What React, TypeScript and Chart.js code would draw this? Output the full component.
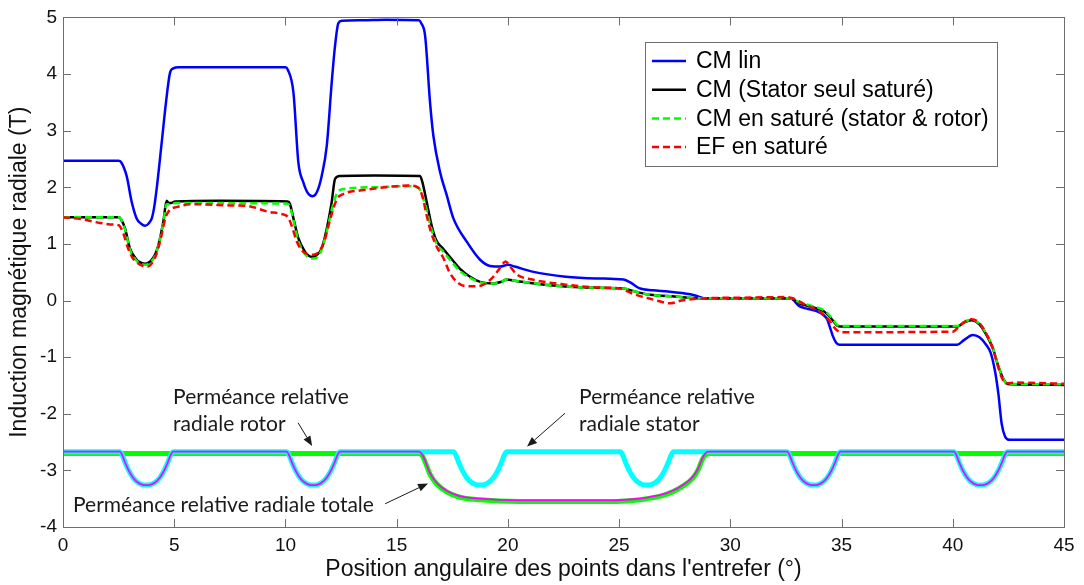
import React, { useEffect, useRef } from "react";
import { Chart, registerables } from "chart.js";

Chart.register(...registerables);

// ---- axis ticks ----
const xTickValues = [0, 5, 10, 15, 20, 25, 30, 35, 40, 45];
const yTickValues = [-4, -3, -2, -1, 0, 1, 2, 3, 4, 5];

const xTitle = "Position angulaire des points dans l'entrefer (°)";
const yTitle = "Induction magnétique radiale (T)";

const seriesNames = [
  "CM lin",
  "CM (Stator seul saturé)",
  "CM en saturé (stator & rotor)",
  "EF en saturé",
];

// ---- series: [angle (deg), B (T)] ----
const cmLin: number[][] = [
  [0, 2.47], [2.5, 2.47], [2.6, 2.45], [2.86, 2.2], [3.09, 1.74], [3.31, 1.45], [3.5, 1.36], [3.69, 1.32],
  [3.85, 1.36], [3.99, 1.45], [4.1, 1.65], [4.21, 1.97], [4.44, 2.8], [4.63, 3.5], [4.81, 4.02], [4.96, 4.1],
  [5.2, 4.12], [10.0, 4.12], [10.1, 4.08], [10.36, 3.67], [10.58, 2.44], [10.8, 2.09], [11.0, 1.9], [11.21, 1.84],
  [11.42, 1.92], [11.63, 2.2], [11.86, 2.74], [12.08, 3.85], [12.23, 4.5], [12.38, 4.9], [12.55, 4.94],
  [13.5, 4.95], [14.5, 4.96], [16.0, 4.95], [16.1, 4.9], [16.28, 4.67], [16.5, 3.5], [16.65, 2.91],
  [16.95, 2.27], [17.25, 1.86], [17.55, 1.45], [18.15, 1.04], [18.75, 0.72], [19.2, 0.61], [19.65, 0.6],
  [20.0, 0.63], [20.3, 0.6], [21.1, 0.51], [22.6, 0.42], [24.0, 0.39], [25.2, 0.37], [25.5, 0.32],
  [25.9, 0.22], [26.5, 0.18], [27.2, 0.16], [28.2, 0.11], [28.5, 0.08], [28.8, 0.04], [30.0, 0.04],
  [32.7, 0.04], [33.1, -0.1], [33.5, -0.15], [33.9, -0.19], [34.2, -0.26], [34.35, -0.33], [34.5, -0.5],
  [34.6, -0.62], [34.75, -0.74], [34.9, -0.78], [40.2, -0.78], [40.5, -0.7], [40.9, -0.61], [41.2, -0.65],
  [41.5, -0.78], [41.7, -0.92], [41.9, -1.25], [42.05, -1.65], [42.2, -2.18], [42.35, -2.4], [42.55, -2.46],
  [45, -2.46],
];

const cmStator: number[][] = [
  [0, 1.47], [2.5, 1.47], [2.6, 1.44], [2.79, 1.27], [3.01, 0.92], [3.31, 0.72], [3.5, 0.67], [3.69, 0.65],
  [3.85, 0.67], [3.99, 0.72], [4.15, 0.82], [4.29, 0.98], [4.51, 1.39], [4.66, 1.76], [4.75, 1.72],
  [4.85, 1.72], [5.04, 1.75], [7.0, 1.76], [10.1, 1.75], [10.2, 1.71], [10.36, 1.45], [10.58, 1.1],
  [10.88, 0.86], [11.05, 0.79], [11.2, 0.77], [11.4, 0.8], [11.63, 0.92], [11.86, 1.27], [12.08, 1.74],
  [12.23, 2.15], [12.45, 2.2], [14.0, 2.21], [16.05, 2.2], [16.15, 2.1], [16.35, 1.74], [16.5, 1.45],
  [16.65, 1.21], [16.8, 1.05], [17.1, 0.91], [17.5, 0.72], [17.85, 0.56], [18.3, 0.42], [18.75, 0.33],
  [19.35, 0.3], [19.7, 0.33], [19.95, 0.37], [20.3, 0.35], [21.9, 0.27], [23.5, 0.23], [25.2, 0.21],
  [25.8, 0.15], [26.4, 0.1], [27.5, 0.07], [28.6, 0.04], [32.7, 0.04], [33.1, -0.05], [33.7, -0.12],
  [34.2, -0.19], [34.5, -0.3], [34.8, -0.44], [34.95, -0.46], [40.2, -0.46], [40.5, -0.39], [40.85, -0.35],
  [41.2, -0.42], [41.5, -0.6], [41.8, -0.84], [42.0, -1.1], [42.2, -1.32], [42.4, -1.46], [42.6, -1.48],
  [45, -1.49],
];

const cmSat: number[][] = [
  [0, 1.47], [2.5, 1.47], [2.6, 1.44], [2.79, 1.25], [3.01, 0.9], [3.31, 0.7], [3.5, 0.65], [3.7, 0.63],
  [3.85, 0.65], [4.0, 0.7], [4.15, 0.8], [4.29, 0.97], [4.51, 1.38], [4.66, 1.7], [4.85, 1.7], [5.04, 1.72],
  [7.0, 1.72], [10.1, 1.71], [10.2, 1.66], [10.36, 1.42], [10.58, 1.05], [10.88, 0.82], [11.05, 0.76],
  [11.25, 0.74], [11.45, 0.77], [11.63, 0.9], [11.86, 1.22], [12.08, 1.6], [12.3, 1.88], [12.6, 1.97],
  [14.0, 2.0], [15.5, 2.02], [16.0, 1.98], [16.15, 1.85], [16.35, 1.6], [16.5, 1.35], [16.65, 1.15],
  [16.8, 1.0], [17.1, 0.86], [17.5, 0.67], [17.85, 0.52], [18.3, 0.4], [18.75, 0.32], [19.35, 0.3],
  [19.7, 0.33], [19.95, 0.37], [20.3, 0.35], [21.9, 0.27], [23.5, 0.23], [25.2, 0.21], [25.8, 0.15],
  [26.4, 0.1], [27.5, 0.07], [28.6, 0.04], [32.7, 0.04], [33.1, -0.03], [33.7, -0.1], [34.2, -0.17],
  [34.5, -0.28], [34.8, -0.43], [34.95, -0.45], [40.2, -0.45], [40.5, -0.38], [40.85, -0.34], [41.2, -0.41],
  [41.5, -0.58], [41.8, -0.83], [42.0, -1.1], [42.2, -1.32], [42.4, -1.46], [42.6, -1.47], [45, -1.48],
];

const efSat: number[][] = [
  [0, 1.47], [0.8, 1.44], [1.66, 1.37], [2.3, 1.34], [2.5, 1.33], [2.7, 1.2], [2.9, 0.95], [3.1, 0.77],
  [3.35, 0.66], [3.6, 0.61], [3.8, 0.6], [4.0, 0.66], [4.2, 0.82], [4.4, 1.1], [4.6, 1.45], [4.8, 1.6],
  [5.1, 1.65], [5.85, 1.7], [7.5, 1.68], [8.3, 1.67], [9.2, 1.57], [9.8, 1.53], [10.1, 1.48], [10.3, 1.3],
  [10.5, 1.05], [10.75, 0.88], [11.0, 0.82], [11.25, 0.81], [11.5, 0.86], [11.75, 1.05], [12.0, 1.42],
  [12.3, 1.78], [12.6, 1.88], [13.5, 1.95], [15.0, 2.02], [15.5, 2.03], [15.95, 2.0], [16.15, 1.85],
  [16.35, 1.5], [16.55, 1.2], [16.8, 0.95], [17.1, 0.75], [17.4, 0.48], [17.8, 0.3], [18.2, 0.25],
  [18.6, 0.25], [18.9, 0.28], [19.3, 0.4], [19.6, 0.55], [19.9, 0.69], [20.1, 0.6], [20.4, 0.46],
  [21.1, 0.37], [22.6, 0.28], [24.0, 0.23], [25.05, 0.21], [25.6, 0.12], [26.5, 0.02], [27.3, -0.05],
  [27.8, 0.0], [28.2, 0.02], [28.9, 0.04], [30.5, 0.05], [32.5, 0.06], [32.8, 0.04], [33.4, -0.08],
  [34.0, -0.19], [34.4, -0.33], [34.8, -0.53], [35.1, -0.56], [40.0, -0.55], [40.3, -0.45], [40.6, -0.36],
  [40.85, -0.33], [41.2, -0.4], [41.5, -0.58], [41.8, -0.85], [42.0, -1.12], [42.2, -1.36], [42.4, -1.46],
  [42.8, -1.45], [45, -1.47],
];

// relative permeances (shifted curves at the bottom)
const permRotor: number[][] = [
  [0, -2.7], [16.0, -2.7], [16.15, -2.74], [16.3, -2.87], [16.5, -3.07], [16.8, -3.24], [17.25, -3.38],
  [17.8, -3.47], [18.75, -3.52], [20.5, -3.55], [24.7, -3.55], [25.6, -3.53], [26.25, -3.5], [26.9, -3.45],
  [27.4, -3.38], [27.9, -3.27], [28.3, -3.14], [28.55, -2.99], [28.75, -2.8], [28.9, -2.72], [29.05, -2.7],
  [45, -2.7],
];

const permStator: number[][] = [
  [0, -2.67],
  [2.55, -2.67], [2.65, -2.72], [2.8, -2.87], [2.95, -3.0], [3.15, -3.13], [3.35, -3.21], [3.55, -3.25], [3.75, -3.26],
  [3.95, -3.25], [4.15, -3.21], [4.35, -3.13], [4.55, -3.0], [4.7, -2.87], [4.85, -2.72], [4.95, -2.67],
  [10.05, -2.67], [10.15, -2.72], [10.3, -2.87], [10.45, -3.0], [10.65, -3.13], [10.85, -3.21], [11.05, -3.25], [11.25, -3.26],
  [11.45, -3.25], [11.65, -3.21], [11.85, -3.13], [12.05, -3.0], [12.2, -2.87], [12.35, -2.72], [12.45, -2.67],
  [17.55, -2.67], [17.65, -2.72], [17.8, -2.87], [17.95, -3.0], [18.15, -3.13], [18.35, -3.21], [18.55, -3.25], [18.75, -3.26],
  [18.95, -3.25], [19.15, -3.21], [19.35, -3.13], [19.55, -3.0], [19.7, -2.87], [19.85, -2.72], [19.95, -2.67],
  [25.05, -2.67], [25.15, -2.72], [25.3, -2.87], [25.45, -3.0], [25.65, -3.13], [25.85, -3.21], [26.05, -3.25], [26.25, -3.26],
  [26.45, -3.25], [26.65, -3.21], [26.85, -3.13], [27.05, -3.0], [27.2, -2.87], [27.35, -2.72], [27.45, -2.67],
  [32.55, -2.67], [32.65, -2.72], [32.8, -2.87], [32.95, -3.0], [33.15, -3.13], [33.35, -3.21], [33.55, -3.25], [33.75, -3.26],
  [33.95, -3.25], [34.15, -3.21], [34.35, -3.13], [34.55, -3.0], [34.7, -2.87], [34.85, -2.72], [34.95, -2.67],
  [40.05, -2.67], [40.15, -2.72], [40.3, -2.87], [40.45, -3.0], [40.65, -3.13], [40.85, -3.21], [41.05, -3.25], [41.25, -3.26],
  [41.45, -3.25], [41.65, -3.21], [41.85, -3.13], [42.05, -3.0], [42.2, -2.87], [42.35, -2.72], [42.45, -2.67],
  [45, -2.67],
];

const permTotal: number[][] = [
  [0, -2.67],
  [2.55, -2.67], [2.65, -2.72], [2.8, -2.87], [2.95, -3.0], [3.15, -3.13], [3.35, -3.21], [3.55, -3.25], [3.75, -3.26],
  [3.95, -3.25], [4.15, -3.21], [4.35, -3.13], [4.55, -3.0], [4.7, -2.87], [4.85, -2.72], [4.95, -2.67],
  [10.05, -2.67], [10.15, -2.72], [10.3, -2.87], [10.45, -3.0], [10.65, -3.13], [10.85, -3.21], [11.05, -3.25], [11.25, -3.26],
  [11.45, -3.25], [11.65, -3.21], [11.85, -3.13], [12.05, -3.0], [12.2, -2.87], [12.35, -2.72], [12.45, -2.67],
  [16.0, -2.67], [16.15, -2.72], [16.3, -2.85], [16.5, -3.05], [16.8, -3.22], [17.25, -3.36], [17.8, -3.45],
  [18.75, -3.5], [20.5, -3.53], [24.7, -3.53], [25.6, -3.51], [26.25, -3.48], [26.9, -3.43], [27.4, -3.36],
  [27.9, -3.25], [28.3, -3.12], [28.55, -2.97], [28.75, -2.78], [28.9, -2.69], [29.05, -2.67],
  [32.55, -2.67], [32.65, -2.72], [32.8, -2.87], [32.95, -3.0], [33.15, -3.13], [33.35, -3.21], [33.55, -3.25], [33.75, -3.26],
  [33.95, -3.25], [34.15, -3.21], [34.35, -3.13], [34.55, -3.0], [34.7, -2.87], [34.85, -2.72], [34.95, -2.67],
  [40.05, -2.67], [40.15, -2.72], [40.3, -2.87], [40.45, -3.0], [40.65, -3.13], [40.85, -3.21], [41.05, -3.25], [41.25, -3.26],
  [41.45, -3.25], [41.65, -3.21], [41.85, -3.13], [42.05, -3.0], [42.2, -2.87], [42.35, -2.72], [42.45, -2.67],
  [45, -2.67],
];

// annotations: text lines anchored (left, middle) at data coords, arrows tail->tip in data coords
const annotTexts = [
  { lines: ["Perméance relative", "radiale rotor"], x: 4.95, y: -1.7 },
  { lines: ["Perméance relative", "radiale stator"], x: 23.2, y: -1.7 },
  { lines: ["Perméance relative radiale totale"], x: 0.45, y: -3.62 },
];
const annotArrows = [
  { from: [10.57, -2.16], to: [11.2, -2.57] },
  { from: [22.57, -1.99], to: [20.86, -2.58] },
  { from: [14.48, -3.59], to: [16.41, -3.23] },
];

const AX_FONT = "'Liberation Sans', Arial, sans-serif";
const NOTE_FONT = "Lato, 'Open Sans', sans-serif";

const legendStyles = [
  { color: "#0000ff", dash: [] as number[] },
  { color: "#000000", dash: [] as number[] },
  { color: "#00ff00", dash: [7, 4] },
  { color: "#ff0000", dash: [7, 4] },
];

const decorPlugin = {
  id: "decor",
  afterDatasetsDraw(chart: any) {
    const { ctx, chartArea, scales } = chart;
    const { left, right, top, bottom } = chartArea;
    const xs = scales.x;
    const ys = scales.y;
    ctx.save();
    // frame
    ctx.strokeStyle = "#6e6e6e";
    ctx.lineWidth = 1;
    ctx.setLineDash([]);
    ctx.strokeRect(Math.round(left) + 0.5, Math.round(top) + 0.5, Math.round(right - left), Math.round(bottom - top));
    // inward ticks
    const TL = 8;
    ctx.beginPath();
    xTickValues.forEach((v) => {
      const px = Math.round(xs.getPixelForValue(v)) + 0.5;
      ctx.moveTo(px, bottom);
      ctx.lineTo(px, bottom - TL);
      ctx.moveTo(px, top);
      ctx.lineTo(px, top + TL);
    });
    yTickValues.forEach((v) => {
      const py = Math.round(ys.getPixelForValue(v)) + 0.5;
      ctx.moveTo(left, py);
      ctx.lineTo(left + TL, py);
      ctx.moveTo(right, py);
      ctx.lineTo(right - TL, py);
    });
    ctx.stroke();

    // annotations
    ctx.fillStyle = "#1a1a1a";
    ctx.textAlign = "left";
    ctx.textBaseline = "middle";
    ctx.font = `21px ${NOTE_FONT}`;
    annotTexts.forEach((a) => {
      const px = xs.getPixelForValue(a.x);
      const py = ys.getPixelForValue(a.y);
      a.lines.forEach((t, i) => ctx.fillText(t, px, py + i * 27));
    });
    ctx.strokeStyle = "#1a1a1a";
    ctx.lineWidth = 1;
    annotArrows.forEach((a) => {
      const x1 = xs.getPixelForValue(a.from[0]);
      const y1 = ys.getPixelForValue(a.from[1]);
      const x2 = xs.getPixelForValue(a.to[0]);
      const y2 = ys.getPixelForValue(a.to[1]);
      const ang = Math.atan2(y2 - y1, x2 - x1);
      const hl = 10;
      const hw = 4;
      const bx = x2 - hl * Math.cos(ang);
      const by = y2 - hl * Math.sin(ang);
      ctx.beginPath();
      ctx.moveTo(x1, y1);
      ctx.lineTo(bx, by);
      ctx.stroke();
      ctx.beginPath();
      ctx.moveTo(x2, y2);
      ctx.lineTo(bx + hw * Math.sin(ang), by - hw * Math.cos(ang));
      ctx.lineTo(bx - hw * Math.sin(ang), by + hw * Math.cos(ang));
      ctx.closePath();
      ctx.fill();
    });

    // legend box
    const lx = 645, ly = 42, lw = 352, lh = 124;
    ctx.fillStyle = "#ffffff";
    ctx.fillRect(lx, ly, lw, lh);
    ctx.strokeStyle = "#6e6e6e";
    ctx.strokeRect(lx + 0.5, ly + 0.5, lw, lh);
    ctx.font = `23px ${AX_FONT}`;
    ctx.textBaseline = "middle";
    seriesNames.forEach((name, i) => {
      const cy = ly + 19 + i * 28.7;
      ctx.strokeStyle = legendStyles[i].color;
      ctx.lineWidth = 2.5;
      ctx.setLineDash(legendStyles[i].dash);
      ctx.beginPath();
      ctx.moveTo(lx + 7, cy);
      ctx.lineTo(lx + 41, cy);
      ctx.stroke();
      ctx.setLineDash([]);
      ctx.fillStyle = "#000";
      ctx.fillText(name, lx + 51, cy + 1);
    });
    ctx.restore();
  },
};

const toXY = (arr: number[][]) => arr.map((p) => ({ x: p[0], y: p[1] }));

export default function App() {
  const ref = useRef<HTMLCanvasElement | null>(null);
  useEffect(() => {
    if (!ref.current) return;
    const common = {
      pointRadius: 0,
      fill: false,
      cubicInterpolationMode: "monotone" as const,
      borderCapStyle: "butt" as const,
      borderJoinStyle: "round" as const,
    };
    const chart = new Chart(ref.current, {
      type: "line",
      data: {
        datasets: [
          { ...common, label: seriesNames[3], data: toXY(efSat), borderColor: "#ff0000", borderWidth: 2.5, borderDash: [7, 4], order: 1 },
          { ...common, label: seriesNames[2], data: toXY(cmSat), borderColor: "#00ff00", borderWidth: 2.5, borderDash: [7, 4], order: 2 },
          { ...common, label: seriesNames[1], data: toXY(cmStator), borderColor: "#000000", borderWidth: 2.5, order: 3 },
          { ...common, label: seriesNames[0], data: toXY(cmLin), borderColor: "#0000ff", borderWidth: 2.5, order: 4 },
          { ...common, label: "total", data: toXY(permTotal), borderColor: "#ff00ff", borderWidth: 1.8, order: 5 },
          { ...common, label: "stator", data: toXY(permStator), borderColor: "#00ffff", borderWidth: 5, order: 6 },
          { ...common, label: "rotor", data: toXY(permRotor), borderColor: "#00ff00", borderWidth: 5, order: 7 },
        ] as any,
      },
      options: {
        responsive: false,
        devicePixelRatio: 1,
        animation: false,
        events: [],
        layout: { padding: { top: 15, right: 20, left: 0, bottom: 0 } },
        plugins: { legend: { display: false }, tooltip: { enabled: false } },
        scales: {
          x: {
            type: "linear",
            min: 0,
            max: 45,
            ticks: {
              stepSize: 5,
              autoSkip: false,
              maxRotation: 0,
              padding: 7,
              color: "#111",
              font: { family: AX_FONT, size: 19 },
            },
            grid: { display: false, drawTicks: false },
            border: { display: false },
            title: {
              display: true,
              text: xTitle,
              color: "#111",
              font: { family: AX_FONT, size: 23 },
              padding: { top: 0, bottom: 2 },
            },
            afterFit: (s: any) => {
              s.height = 58;
            },
          },
          y: {
            type: "linear",
            min: -4,
            max: 5,
            ticks: {
              stepSize: 1,
              padding: 6,
              color: "#111",
              font: { family: AX_FONT, size: 19 },
            },
            grid: { display: false, drawTicks: false },
            border: { display: false },
            title: {
              display: true,
              text: yTitle,
              color: "#111",
              font: { family: AX_FONT, size: 23 },
              padding: { top: 6, bottom: 0 },
            },
            afterFit: (s: any) => {
              s.width = 63;
            },
          },
        },
      } as any,
      plugins: [decorPlugin],
    });
    return () => chart.destroy();
  }, []);
  return (
    <div style={{ position: "absolute", left: 0, top: 0, width: 1084, height: 585, background: "#fff" }}>
      <canvas ref={ref} width={1084} height={585} style={{ display: "block", width: 1084, height: 585 }} />
    </div>
  );
}
